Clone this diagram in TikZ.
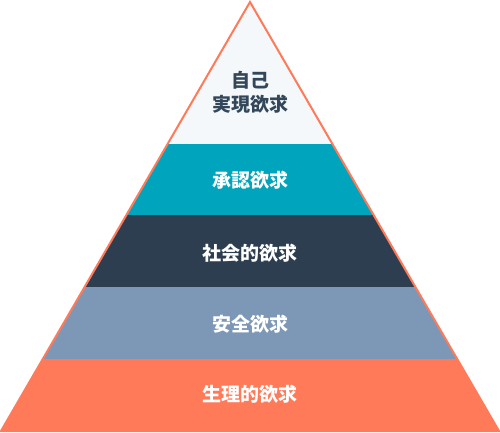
\documentclass[tikz,border=0pt]{standalone}
\usepackage{fontspec}
\newfontfamily\cjk{Noto Sans CJK JP}
\usepackage{xcolor}
\definecolor{pyrtop}{HTML}{F5F8FA}
\definecolor{pyrteal}{HTML}{00A4BD}
\definecolor{pyrdark}{HTML}{2D3E50}
\definecolor{pyrslate}{HTML}{7C98B6}
\definecolor{pyrorange}{HTML}{FF7A59}
\definecolor{pyrtext}{HTML}{33475B}
\tikzset{
	label/.style={font=\cjk\bfseries\fontsize{19}{24}\selectfont, color=white, align=center, inner sep=0pt},
	darklabel/.style={label, color=pyrtext}
}

\begin{document}
\begin{tikzpicture}[x=1pt, y=-1pt]
				\useasboundingbox (0, 0) rectangle (500, 433);
				\coordinate (apex) at (250, 2);
				\coordinate (left) at (1, 431);
				\coordinate (right) at (499, 431);
				\begin{scope}
					\clip (apex) -- (left) -- (right) -- cycle;
					\fill[pyrtop] (0, 0) rectangle (500, 144);
					\fill[pyrteal] (0, 144) rectangle (500, 215);
					\fill[pyrdark] (0, 215) rectangle (500, 287);
					\fill[pyrslate] (0, 287) rectangle (500, 359);
					\fill[pyrorange] (0, 359) rectangle (500, 433);
				\end{scope}
				\draw[pyrorange, line width=2pt, line join=miter] (apex) -- (left) -- (right) -- cycle;
				\node[darklabel] (self) at (250, 92) {自己\\実現欲求};
				\node[label] (esteem) at (250, 180) {承認欲求};
				\node[label] (social) at (250, 253) {社会的欲求};
				\node[label] (safety) at (250, 324) {安全欲求};
				\node[label] (body) at (250, 394) {生理的欲求};
			\end{tikzpicture}
\end{document}
